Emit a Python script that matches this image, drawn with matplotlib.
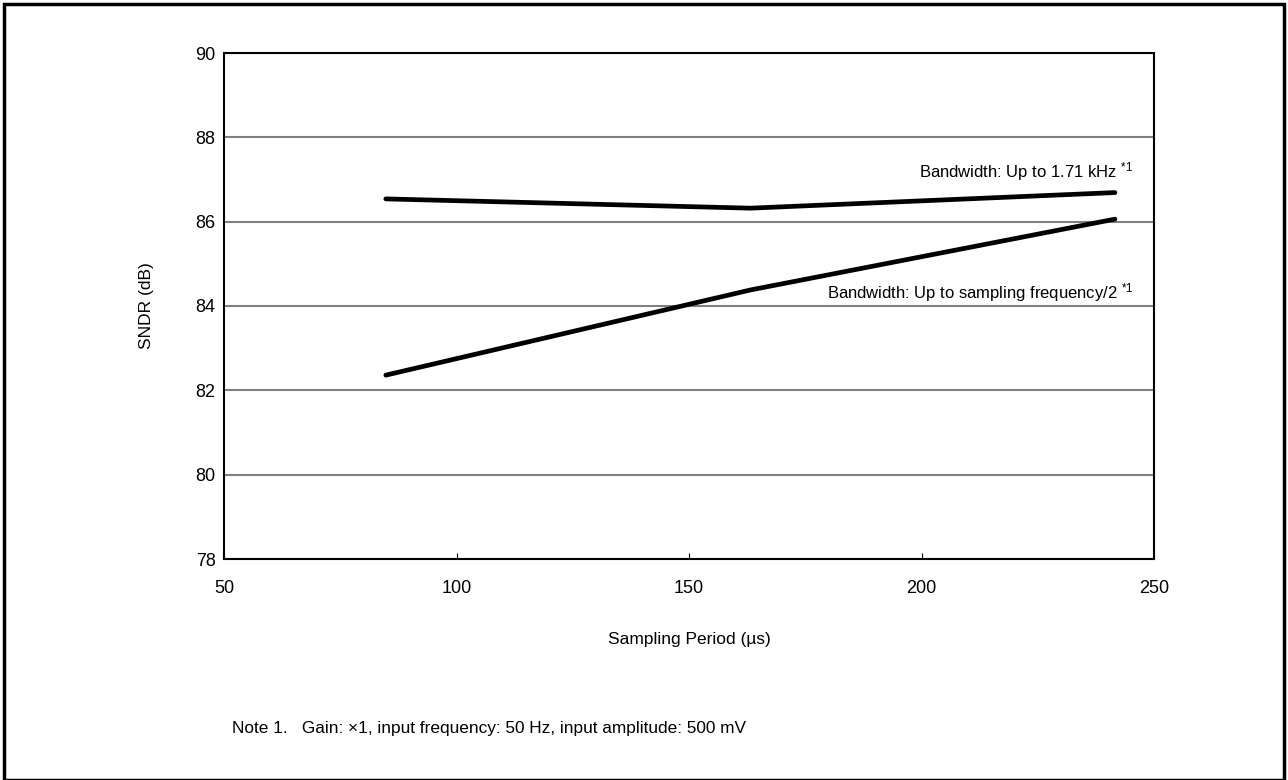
import matplotlib
matplotlib.use("Agg")
import matplotlib.pyplot as plt
from matplotlib.patches import Rectangle

plt.rcParams['font.family'] = ['Liberation Sans', 'DejaVu Sans']
plt.rcParams['mathtext.fontset'] = 'custom'
plt.rcParams['mathtext.rm'] = 'Liberation Sans'
plt.rcParams['mathtext.it'] = 'Liberation Sans'

# data
period = [84.8, 163.2, 241.6]           # sampling period (us)
sndr_171k = [86.54, 86.32, 86.69]        # bandwidth up to 1.71 kHz
sndr_fs2 = [82.36, 84.38, 86.06]         # bandwidth up to fs/2

xticks = [50, 100, 150, 200, 250]
yticks = [78, 80, 82, 84, 86, 88, 90]

fig = plt.figure(figsize=(12.88, 7.8), dpi=100)
ax = fig.add_axes([224/1288, 1-559/780, 930/1288, 506/780])

ax.plot(period, sndr_171k, color='black', lw=3.4, solid_capstyle='round')
ax.plot(period, sndr_fs2, color='black', lw=3.4, solid_capstyle='round')

ax.set_xlim(50, 250)
ax.set_ylim(78, 90)
ax.set_xticks(xticks)
ax.set_yticks(yticks)
ax.yaxis.grid(True, color='#808080', lw=1.5)
ax.set_axisbelow(True)
for s in ax.spines.values():
    s.set_linewidth(1.5)
ax.tick_params(direction='in', length=4, width=0.8, labelsize=13)
ax.tick_params(axis='x', pad=15)
ax.tick_params(axis='y', pad=6, length=0)

ax.set_xlabel('Sampling Period (µs)', fontsize=12.5, labelpad=25)
ax.set_ylabel('SNDR (dB)', fontsize=12.5, labelpad=30)

ax.text(245.5, 87.18, 'Bandwidth: Up to 1.71 kHz $^{*1}$', fontsize=12,
        ha='right', va='center')
ax.text(245.5, 84.32, 'Bandwidth: Up to sampling frequency/2 $^{*1}$', fontsize=12,
        ha='right', va='center')

fig.text(232/1288, 1-729/780, 'Note 1.   Gain: \u00d71, input frequency: 50 Hz, input amplitude: 500 mV',
         fontsize=12.4, ha='left', va='center')

fig.patches.append(Rectangle((4/1288, 0), 1-8/1288, 1-4/780, transform=fig.transFigure,
                             fill=False, edgecolor='black', lw=2.5))

fig.savefig('out.png', dpi=100)
